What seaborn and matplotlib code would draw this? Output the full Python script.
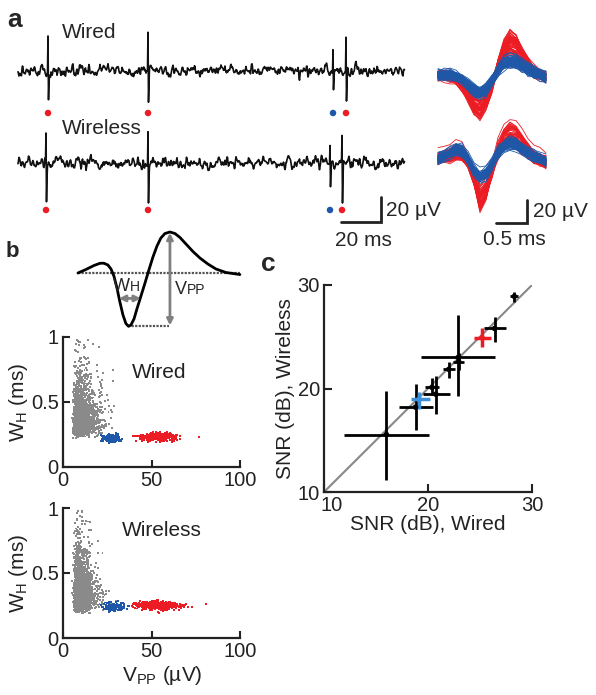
import numpy as np
import pandas as pd
import matplotlib
matplotlib.use("Agg")
import matplotlib.pyplot as plt
import matplotlib.transforms as mtransforms
import seaborn as sns

sns.set_theme(style="ticks")
plt.rcParams["font.family"] = ["Liberation Sans", "DejaVu Sans"]

RED = "#ec1c24"
BLUE = "#1f58a8"
LBLUE = "#3f8fd8"
GRAY = "#8a8a8a"

# ---------------- panel a: raw traces (ms, uV)
spike_t_wired = [15, 65, 157.5, 164]
spike_up_wired = [28, 31, 17, 27]
spike_dn_wired = [23, 25, 15, 24]
spike_t_wireless = [14, 65, 156, 162]
spike_up_wireless = [24, 25, 14, 22]
spike_dn_wireless = [31, 32, 19, 32]
spike_unit = ["red", "red", "blue", "red"]

# ---------------- panel a: spike waveforms (ms, uV)
wf_t = [0, 0.1, 0.2, 0.3, 0.4, 0.5, 0.6, 0.7, 0.8, 0.9,
        1.0, 1.1, 1.2, 1.3, 1.4, 1.5, 1.6, 1.7, 1.8]
wf_red_wired = [0, 0, -1, -3, -8, -16, -25, -29, -22, -9,
                9, 22, 29, 26, 17, 10, 4, 1, -1]
wf_blue_wired = [0, 0, 0, -1, -4, -9, -14, -16, -13, -5,
                 4, 10, 12, 11, 8, 5, 2, 0, -2]
wf_red_wireless = [3, 4, 6, 8, 7, 0, -14, -33, -25, -8,
                   10, 20, 24, 22, 16, 10, 5, 2, 0]
wf_blue_wireless = [3, 5, 8, 11, 10, 3, -7, -13, -10, -2,
                    8, 14, 17, 15, 12, 8, 5, 3, 1]

# ---------------- panel b: schematic spike (arbitrary units)
sch_t = [0, .049, .099, .136, .160, .185, .204, .222, .241, .259, .278,
         .296, .312, .327, .346, .364, .389, .414, .438, .463, .488, .512,
         .537, .568, .599, .630, .667, .710, .753, .802, .852, .914, 1.0]
sch_amp = [0, .085, .183, .237, .239, .195, .098, -.073, -.366, -.707, -1.024,
           -1.232, -1.300, -1.268, -1.122, -.878, -.561, -.244, .073, .390, .659,
           .854, .963, 1.0, .963, .866, .707, .524, .366, .220, .098, .012, -.037]

# ---------------- panel b: cluster summaries (Vpp uV, WH ms), [wired, wireless]
gray_x0 = [4, 4]
gray_xmed = [6.5, 6.0]
gray_xsig = [0.5, 0.45]
gray_y0 = [0.2, 0.17]
gray_ymed = [0.17, 0.18]
gray_ysig = [0.6, 0.6]
gray_n = [2000, 2400]
blue_cx = [27, 28]
blue_cy = [0.22, 0.24]
blue_sx = [2.5, 3.0]
blue_sy = [0.015, 0.016]
blue_n = [180, 160]
red_cx = [54, 54]
red_cy = [0.23, 0.25]
red_sx = [5.0, 6.0]
red_sy = [0.015, 0.017]
red_n = [450, 420]
red_out_x = [77, 81]
red_out_y = [0.23, 0.26]

# ---------------- panel c: SNR (dB)
snr_wired = [16.0, 18.8, 19.15, 20.4, 20.75, 22.0, 22.9, 22.95, 25.2, 26.4, 28.3]
snr_wireless = [15.55, 18.2, 18.95, 20.1, 19.45, 21.85, 23.0, 22.6, 24.9, 25.8, 28.9]
snr_wired_lo = [11.95, 17.17, 18.4, 19.7, 19.5, 21.4, 19.3, 22.45, 24.4, 25.4, 27.85]
snr_wired_hi = [20.08, 20.5, 20.2, 21.1, 22.16, 22.6, 26.4, 23.45, 26.1, 27.5, 28.7]
snr_wireless_lo = [11.19, 15.97, 18.06, 19.35, 17.5, 21.0, 19.26, 21.8, 24.0, 24.5, 28.4]
snr_wireless_hi = [19.77, 20.39, 19.68, 21.0, 21.2, 22.6, 27.1, 23.4, 25.8, 26.9, 29.35]
snr_unit = ["other"] * 11
snr_unit[2] = "blue"
snr_unit[8] = "red"

# texture only (recording noise / cluster scatter cannot be read point by point)
rng = np.random.default_rng(3)

W, H = 596, 695
fig = plt.figure(figsize=(W / 100, H / 100), dpi=100)


def px_axes(x0, y0, x1, y1):
    return fig.add_axes([x0 / W, 1 - y1 / H, (x1 - x0) / W, (y1 - y0) / H])


def style_axes(ax, tick_len):
    sns.despine(ax=ax)
    for s in ["left", "bottom"]:
        ax.spines[s].set_linewidth(1.6)
        ax.spines[s].set_color("#222222")
    ax.tick_params(direction="in", length=tick_len, width=1.5, labelsize=14.5,
                   pad=3, color="#222222", labelcolor="#222222")


# ===== a: traces
ax = px_axes(10, 20, 420, 250)
ax.set_xlim(-4, 201)
ax.set_ylim(-143.2, 40.8)
ax.axis("off")
dt = 0.25
t = np.arange(0, 193.5, dt)
for offs, st, up, dn, doty in [
    (0, spike_t_wired, spike_up_wired, spike_dn_wired, -33.6),
    (-73.6, spike_t_wireless, spike_up_wireless, spike_dn_wireless, -111.2),
]:
    y = rng.normal(0, 3.4, t.size)
    y = np.convolve(y, [0.3, 0.4, 0.3], mode="same")
    y += np.convolve(rng.normal(0, 1.2, t.size), np.ones(6) / 6 * 2.0, mode="same")
    for s, u, d in zip(st, up, dn):
        i = int(round(s / dt))
        y[i] = u
        y[i + 1] = -d
        y[i + 2] = -0.4 * d
    sns.lineplot(x=t, y=y + offs, ax=ax, color="#111111", lw=1.2, estimator=None)
    sns.scatterplot(x=st, y=[doty] * len(st), hue=spike_unit,
                    palette={"red": RED, "blue": BLUE}, s=22, linewidth=0,
                    legend=False, ax=ax)
ax.text(22, 30.4, "Wired", fontsize=15, va="center", ha="left")
ax.text(22, -45.6, "Wireless", fontsize=15, va="center", ha="left")
ax.plot([161.5, 181.5, 181.5], [-120.8, -120.8, -100.8], color="#222222", lw=2.0,
        solid_joinstyle="miter")
ax.text(184, -111.2, "20 µV", fontsize=15, va="center", ha="left")
ax.text(172.5, -135.2, "20 ms", fontsize=15, va="center", ha="center")

# ===== a: waveforms
ax = px_axes(430, 15, 565, 250)
ax.set_xlim(-0.133, 2.117)
ax.set_ylim(-152.2, 52.2)
ax.axis("off")
for offs, tr, tb in [(0, wf_red_wired, wf_blue_wired),
                     (-75.7, wf_red_wireless, wf_blue_wireless)]:
    for tmpl, col, lo, hi in [(tr, RED, 0.7, 1.3), (tb, BLUE, 0.8, 1.2)]:
        for k in range(60):
            yy = (np.array(tmpl) * rng.uniform(lo, hi)
                  + rng.normal(0, 1.0, len(tmpl)) + rng.normal(0, 2.2) + offs)
            ax.plot(wf_t, yy, color=col, lw=0.6)
ax.plot([0.967, 1.483, 1.483], [-128.7, -128.7, -108.7], color="#222222", lw=2.0,
        solid_joinstyle="miter")
ax.text(1.583, -119.1, "20 µV", fontsize=15, va="center", ha="left")
ax.text(1.267, -143.5, "0.5 ms", fontsize=15, va="center", ha="center")

# ===== b: schematic
ax = px_axes(70, 225, 255, 335)
ax.set_xlim(-0.049, 1.093)
ax.set_ylim(-1.512, 1.171)
ax.axis("off")
ax.plot([0, 1], [0, 0], color="#555555", lw=1.6, ls=(0, (1, 0.6)))
ax.plot([0.31, 0.56], [-1.30, -1.30], color="#555555", lw=1.6, ls=(0, (1, 0.6)))
ax.plot(sch_t, sch_amp, color="black", lw=2.0, solid_capstyle="round",
        solid_joinstyle="round")
arw = dict(arrowstyle="<|-|>", color="#808080", lw=2.0, mutation_scale=9,
           shrinkA=0, shrinkB=0)
ax.annotate("", xy=(0.568, 0.98), xytext=(0.568, -1.28), arrowprops=arw)
ax.annotate("", xy=(0.253, -0.62), xytext=(0.389, -0.62), arrowprops=arw)
ax.text(0.318, -0.43, "W", fontsize=13, ha="right", va="baseline")
ax.text(0.318, -0.43, "H", fontsize=10, ha="left", va="baseline")
ax.text(0.60, -0.52, "V", fontsize=13, ha="left", va="baseline")
ax.text(0.675, -0.52, "PP", fontsize=10, ha="left", va="baseline")

# ===== b: scatter plots
for k, (y0, y1, title, tx, ty) in enumerate([(337, 467, "Wired", 39, 0.73),
                                             (508, 638, "Wireless", 33, 0.83)]):
    ax = px_axes(63, y0, 240, y1)
    gx = gray_x0[k] + gray_xmed[k] * np.exp(rng.normal(0, gray_xsig[k], gray_n[k]))
    gy = gray_y0[k] + gray_ymed[k] * np.exp(rng.normal(0, gray_ysig[k], gray_n[k]))
    keep = (gy < 0.98) & (gx < 30)
    bx = rng.normal(blue_cx[k], blue_sx[k], blue_n[k])
    by = rng.normal(blue_cy[k], blue_sy[k], blue_n[k])
    rx = np.append(rng.normal(red_cx[k], red_sx[k], red_n[k]), red_out_x[k])
    ry = np.append(rng.normal(red_cy[k], red_sy[k], red_n[k]), red_out_y[k])
    df = pd.DataFrame({
        "vpp": np.concatenate([gx[keep], bx, rx]),
        "wh": np.concatenate([gy[keep], by, ry]),
        "unit": ["noise"] * keep.sum() + ["blue"] * bx.size + ["red"] * rx.size,
    })
    sns.scatterplot(data=df, x="vpp", y="wh", hue="unit",
                    palette={"noise": GRAY, "blue": BLUE, "red": RED},
                    s=2, marker="s", linewidth=0, legend=False, ax=ax)
    ax.set_xlim(0, 100)
    ax.set_ylim(0, 1)
    ax.set_xticks([0, 50, 100])
    ax.set_yticks([0, 0.5, 1])
    ax.set_yticklabels(["0", "0.5", "1"])
    ax.set_ylabel("W$_\\mathregular{H}$ (ms)", fontsize=15, labelpad=1,
                  color="#222222")
    ax.set_xlabel("V$_\\mathregular{PP}$ (µV)" if k == 1 else "", fontsize=15,
                  labelpad=1, color="#222222")
    ax.xaxis.set_label_coords(0.56, -0.2)
    ax.text(tx, ty, title, fontsize=15, va="center", ha="left", color="#222222")
    style_axes(ax, 5)

# ===== c: SNR
ax = px_axes(324, 285, 532, 492)
ax.plot([10, 30], [10, 30], color="#888888", lw=1.5, zorder=1)
cols = {"other": "black", "blue": LBLUE, "red": RED}
for i in range(len(snr_wired)):
    c = cols[snr_unit[i]]
    lw = 2.0 if snr_unit[i] == "other" else 2.5
    ax.errorbar(snr_wired[i], snr_wireless[i],
                xerr=[[snr_wired[i] - snr_wired_lo[i]], [snr_wired_hi[i] - snr_wired[i]]],
                yerr=[[snr_wireless[i] - snr_wireless_lo[i]],
                      [snr_wireless_hi[i] - snr_wireless[i]]],
                fmt="none", ecolor=c, elinewidth=lw, capsize=0, zorder=2)
sns.scatterplot(x=snr_wired, y=snr_wireless, hue=snr_unit, palette=cols,
                s=16, linewidth=0, legend=False, ax=ax, zorder=3)
ax.set_xlim(10, 30)
ax.set_ylim(10, 30)
ax.set_xticks([10, 20, 30])
ax.set_yticks([10, 20, 30])
ax.set_xlabel("SNR (dB), Wired", fontsize=15, labelpad=0, color="#222222")
ax.set_ylabel("SNR (dB), Wireless", fontsize=15, labelpad=2, color="#222222")
style_axes(ax, 6)
fig.canvas.draw()
shift = mtransforms.ScaledTranslation(8 / 100, 0, fig.dpi_scale_trans)
xl0 = ax.get_xticklabels()[0]
xl0.set_transform(xl0.get_transform() + shift)

# panel letters
fig.text(7 / W, 1 - 27 / H, "a", fontsize=19, fontweight="heavy", va="baseline")
fig.text(6 / W, 1 - 257 / H, "b", fontsize=16, fontweight="heavy", va="baseline")
fig.text(261 / W, 1 - 271 / H, "c", fontsize=19, fontweight="heavy", va="baseline")

fig.savefig("out.png", dpi=100)
